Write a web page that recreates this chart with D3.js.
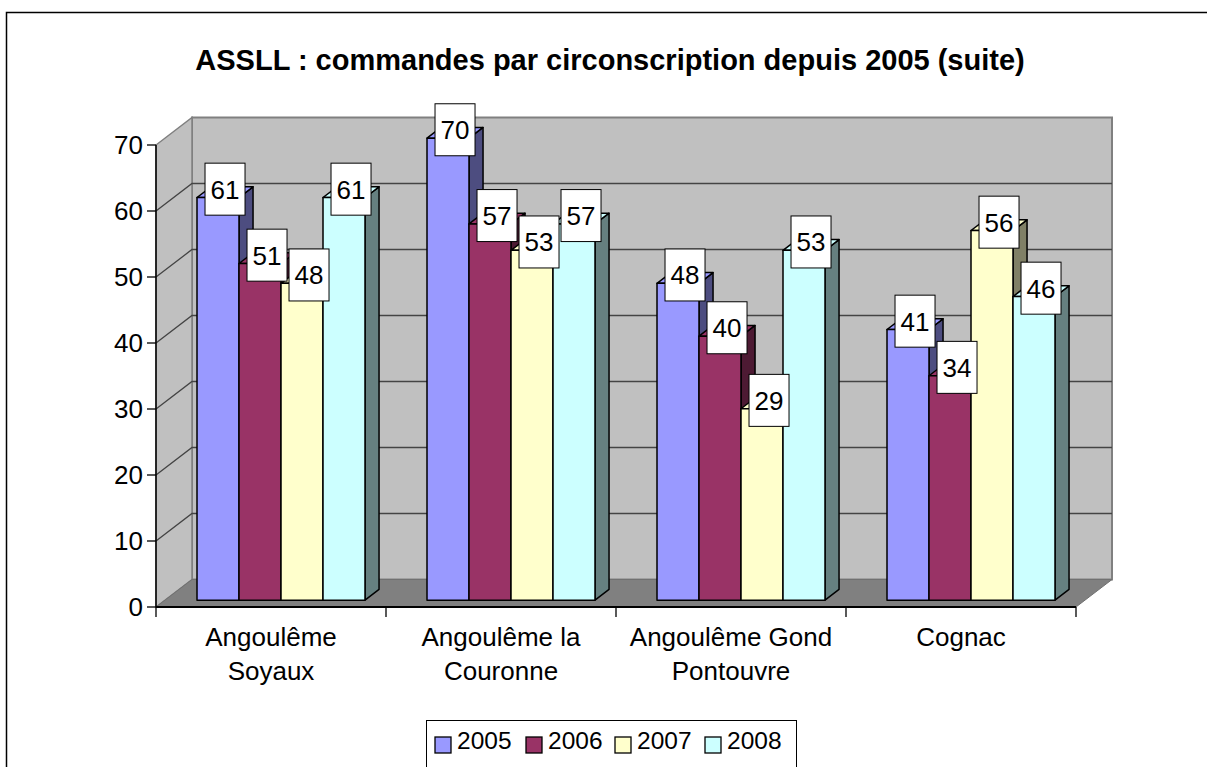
<!DOCTYPE html>
<head>
    <meta charset="utf-8">
    <script src="https://d3js.org/d3.v7.min.js"></script>
    <style>
        body { margin: 0; background: #fff; }
        text { font-family: "Liberation Sans", Arial, sans-serif; fill: #000; }
    </style>
</head>

<body>
    <div id="chart"></div>
</body>

<script>

    // data
    const categories = ["Angoulême Soyaux", "Angoulême la Couronne", "Angoulême Gond Pontouvre", "Cognac"];
    const categoryLines = [["Angoulême", "Soyaux"], ["Angoulême la", "Couronne"], ["Angoulême Gond", "Pontouvre"], ["Cognac"]];
    const years = ["2005", "2006", "2007", "2008"];
    const values2005 = [61, 70, 48, 41];
    const values2006 = [51, 57, 40, 34];
    const values2007 = [48, 53, 29, 56];
    const values2008 = [61, 57, 53, 46];
    const yTicks = [0, 10, 20, 30, 40, 50, 60, 70];

    const series = [values2005, values2006, values2007, values2008];
    const frontColors = ["#9999FF", "#993366", "#FFFFCC", "#CCFFFF"];

    const width = 1207, height = 767;

    // 3d box: front plane + depth vector
    const x0Left = 156, x0Right = 1076, yBase = 607;
    const DX = 36, DY = -27.5;
    const dFront = 0.25, dBack = 0.64;

    const svg = d3.select("#chart").append("svg")
        .attr("width", width).attr("height", height);

    const y = d3.scaleLinear().domain([0, 70]).range([yBase, 145]);
    const x0 = d3.scaleBand().domain(categories).range([x0Left, x0Right]);
    const x1 = d3.scaleBand().domain(years).range([32, 32 + 168]);

    const P = (x, v, f) => [x + DX * f, y(v) + DY * f];
    const poly = pts => "M" + pts.map(p => p.join(",")).join("L") + "Z";

    // outer frame
    svg.append("rect")
        .attr("x", 6.5).attr("y", 12.5)
        .attr("width", 1220).attr("height", 780)
        .attr("fill", "#fff").attr("stroke", "#000").attr("stroke-width", 1.5);

    // title
    svg.append("text")
        .attr("x", 610).attr("y", 70)
        .attr("text-anchor", "middle")
        .style("font-weight", "bold").style("font-size", "29px")
        .text("ASSLL : commandes par circonscription depuis 2005 (suite)");

    // walls
    svg.append("path")
        .attr("d", poly([P(x0Left, 0, 1), P(x0Right, 0, 1), P(x0Right, 70, 1), P(x0Left, 70, 1)]))
        .attr("fill", "#c0c0c0").attr("stroke", "#808080").attr("stroke-width", 2);
    svg.append("path")
        .attr("d", poly([P(x0Left, 0, 0), P(x0Left, 0, 1), P(x0Left, 70, 1), P(x0Left, 70, 0)]))
        .attr("fill", "#c0c0c0").attr("stroke", "#808080").attr("stroke-width", 1.5);

    // gridlines
    const grid = svg.append("g").attr("fill", "none");
    yTicks.filter(t => t > 0 && t < 70).forEach(t => {
        grid.append("path")
            .attr("d", "M" + P(x0Left, t, 0) + "L" + P(x0Left, t, 1) + "L" + P(x0Right, t, 1))
            .attr("stroke", "#444").attr("stroke-width", 1.3);
    });

    // floor
    svg.append("path")
        .attr("d", poly([P(x0Left, 0, 0), P(x0Left, 0, 1), P(x0Right, 0, 1), P(x0Right, 0, 0)]))
        .attr("fill", "#808080").attr("stroke", "#707070").attr("stroke-width", 1);

    // bars
    const bars = svg.append("g").attr("stroke", "#000").attr("stroke-width", 1.5).attr("stroke-linejoin", "round");
    const labels = [];
    categories.forEach((c, i) => {
        series.forEach((vals, j) => {
            const v = vals[i];
            const xl = x0(c) + x1(years[j]);
            const xr = xl + x1.bandwidth();
            const front = frontColors[j];
            const side = d3.interpolateRgb(front, "#000")(0.5);
            bars.append("path")
                .attr("d", poly([P(xr, 0, dFront), P(xr, 0, dBack), P(xr, v, dBack), P(xr, v, dFront)]))
                .attr("fill", side);
            bars.append("path")
                .attr("d", poly([P(xl, v, dFront), P(xr, v, dFront), P(xr, v, dBack), P(xl, v, dBack)]))
                .attr("fill", front);
            bars.append("path")
                .attr("d", poly([P(xl, 0, dFront), P(xr, 0, dFront), P(xr, v, dFront), P(xl, v, dFront)]))
                .attr("fill", front);
            const c3 = P((xl + xr) / 2, v, (dFront + dBack) / 2);
            labels.push({ x: c3[0], y: c3[1] - 3, v: v });
        });
    });

    // axes
    svg.append("line")
        .attr("x1", x0Left).attr("x2", x0Left).attr("y1", y(70)).attr("y2", yBase)
        .attr("stroke", "#000").attr("stroke-width", 1.5);
    svg.append("line")
        .attr("x1", x0Left).attr("x2", x0Right).attr("y1", yBase).attr("y2", yBase)
        .attr("stroke", "#000").attr("stroke-width", 2);

    const yAxis = svg.append("g");
    yTicks.forEach(t => {
        yAxis.append("line")
            .attr("x1", x0Left - 9).attr("x2", x0Left).attr("y1", y(t)).attr("y2", y(t))
            .attr("stroke", "#000").attr("stroke-width", 1.3);
        yAxis.append("text")
            .attr("x", 143).attr("y", y(t)).attr("dy", "0.36em")
            .attr("text-anchor", "end").style("font-size", "26px")
            .text(t);
    });

    const xAxis = svg.append("g");
    d3.range(categories.length + 1).forEach(i => {
        const xt = x0Left + i * x0.bandwidth();
        xAxis.append("line")
            .attr("x1", xt).attr("x2", xt).attr("y1", yBase).attr("y2", yBase + 10)
            .attr("stroke", "#000").attr("stroke-width", 1.3);
    });
    categories.forEach((c, i) => {
        const t = xAxis.append("text")
            .attr("text-anchor", "middle").style("font-size", "26px");
        categoryLines[i].forEach((line, k) => {
            t.append("tspan")
                .attr("x", x0(c) + x0.bandwidth() / 2)
                .attr("y", 646 + k * 34)
                .text(line);
        });
    });

    // data labels
    const lab = svg.append("g").selectAll("g").data(labels).join("g")
        .attr("transform", d => `translate(${d.x},${d.y})`);
    lab.append("rect")
        .attr("x", -20).attr("y", -26).attr("width", 40).attr("height", 52)
        .attr("fill", "#fff").attr("stroke", "#000").attr("stroke-width", 1);
    lab.append("text")
        .attr("text-anchor", "middle").attr("dy", "0.36em")
        .style("font-size", "26px")
        .text(d => d.v);

    // legend
    const legend = svg.append("g");
    legend.append("rect")
        .attr("x", 426.5).attr("y", 720.5).attr("width", 370).attr("height", 60)
        .attr("fill", "#fff").attr("stroke", "#000").attr("stroke-width", 1);
    const legendX = [435, 526, 615, 705];
    years.forEach((yr, j) => {
        legend.append("rect")
            .attr("x", legendX[j]).attr("y", 737).attr("width", 16).attr("height", 16)
            .attr("fill", frontColors[j]).attr("stroke", "#000").attr("stroke-width", 1.3);
        legend.append("text")
            .attr("x", legendX[j] + 22).attr("y", 749)
            .style("font-size", "24.5px")
            .text(yr);
    });

</script>
